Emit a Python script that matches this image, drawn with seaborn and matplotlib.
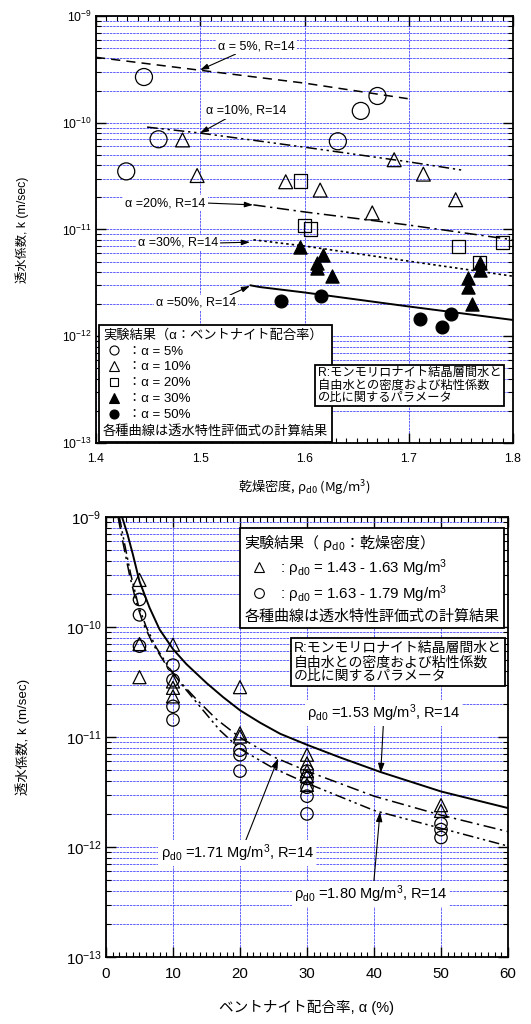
import numpy as np
import pandas as pd
import matplotlib
matplotlib.use("Agg")
import matplotlib.pyplot as plt
import seaborn as sns
from matplotlib.lines import Line2D
from matplotlib.ticker import MultipleLocator, LogLocator, NullFormatter
from matplotlib.font_manager import FontProperties

# measured points: dry density (Mg/m3), bentonite content (%), permeability k (m/s)
rho_d = [1.446, 1.460, 1.429, 1.670, 1.654, 1.632,
         1.483, 1.497, 1.582, 1.615, 1.686, 1.714, 1.745, 1.665,
         1.596, 1.600, 1.606, 1.748, 1.790, 1.768,
         1.596, 1.618, 1.612, 1.612, 1.626, 1.757, 1.757, 1.761, 1.768, 1.768,
         1.577, 1.616, 1.711, 1.732, 1.741]
alpha = [5, 5, 5, 5, 5, 5,
         10, 10, 10, 10, 10, 10, 10, 10,
         20, 20, 20, 20, 20, 20,
         30, 30, 30, 30, 30, 30, 30, 30, 30, 30,
         50, 50, 50, 50, 50]
k_val = [2.68e-10, 7.0e-11, 3.5e-11, 1.78e-10, 1.29e-10, 6.7e-11,
         6.9e-11, 3.2e-11, 2.8e-11, 2.34e-11, 4.5e-11, 3.3e-11, 1.9e-11, 1.43e-11,
         2.84e-11, 1.08e-11, 1.01e-11, 6.9e-12, 7.6e-12, 4.9e-12,
         6.9e-12, 5.76e-12, 4.9e-12, 4.4e-12, 3.67e-12, 3.5e-12, 2.9e-12, 2.0e-12, 4.9e-12, 4.2e-12,
         2.13e-12, 2.4e-12, 1.44e-12, 1.22e-12, 1.63e-12]

# calculated curves, upper chart (k vs dry density)
c5_rho = [1.400, 1.500, 1.600, 1.699]
c5_k = [4.1e-10, 3.1e-10, 2.35e-10, 1.68e-10]
c10_rho = [1.449, 1.500, 1.600, 1.700, 1.751]
c10_k = [9.1e-11, 8.0e-11, 5.9e-11, 4.3e-11, 3.6e-11]
c20_rho = [1.551, 1.600, 1.700, 1.800]
c20_k = [1.7e-11, 1.46e-11, 1.1e-11, 8.0e-12]
c30_rho = [1.551, 1.600, 1.700, 1.800]
c30_k = [8.0e-12, 7.0e-12, 5.05e-12, 3.65e-12]
c50_rho = [1.548, 1.557, 1.600, 1.700, 1.800]
c50_k = [3.0e-12, 2.89e-12, 2.57e-12, 1.9e-12, 1.42e-12]

# calculated curves, lower chart (k vs bentonite content)
c153_a = [2.4, 3.2, 4.0, 5.0, 6.5, 8.0, 10, 12, 15, 17.5, 20, 23, 26, 30, 35, 41, 50, 60]
c153_k = [1e-9, 7e-10, 4.6e-10, 2.6e-10, 1.5e-10, 9.5e-11, 6.3e-11, 4.6e-11, 3.1e-11,
          2.3e-11, 1.75e-11, 1.35e-11, 1.07e-11, 8.5e-12, 6.5e-12, 4.8e-12, 3.2e-12, 2.26e-12]
c171_a = [1.8, 2.5, 3.5, 4.5, 5.5, 7, 9, 11, 13.5, 16.5, 20, 25, 30, 40, 50, 60]
c171_k = [1e-9, 6e-10, 3e-10, 1.7e-10, 1.1e-10, 7e-11, 4.5e-11, 3.2e-11, 2.2e-11,
          1.45e-11, 9.9e-12, 6.6e-12, 4.9e-12, 2.9e-12, 1.95e-12, 1.38e-12]
c180_a = [2.0, 2.7, 3.7, 4.8, 6, 7.5, 9.5, 11.5, 14, 17, 20, 25, 30, 40, 50, 60]
c180_k = [1e-9, 6e-10, 3e-10, 1.6e-10, 1.0e-10, 6.5e-11, 4.2e-11, 2.9e-11, 1.9e-11,
          1.15e-11, 7.8e-12, 5.2e-12, 3.8e-12, 2.15e-12, 1.48e-12, 1.02e-12]

df = pd.DataFrame({"rho": rho_d, "alpha": alpha, "k": k_val})

sns.set_theme(style="ticks")
plt.rcParams["font.family"] = ["Liberation Sans", "Noto Sans CJK JP"]
plt.rcParams.update({
    "mathtext.fontset": "custom",
    "mathtext.rm": "Liberation Sans",
    "mathtext.it": "Liberation Sans:italic",
    "mathtext.default": "regular",
    "axes.edgecolor": "black",
    "axes.linewidth": 1.3,
    "xtick.color": "black", "ytick.color": "black",
    "xtick.direction": "in", "ytick.direction": "in",
    "xtick.top": True, "ytick.right": True,
    "text.color": "black", "axes.labelcolor": "black",
})
CJK = FontProperties(family="Noto Sans CJK JP")
GRID = "#4848ff"

fig = plt.figure(figsize=(5.31, 10.24), dpi=100)
ax1 = fig.add_axes([0.1808, 0.5674, 0.7853, 0.4170])
ax2 = fig.add_axes([0.1996, 0.0654, 0.7571, 0.4297])


def frame(ax, xmin, xmax, major, minor, fs, pad):
    ax.set_yscale("log")
    ax.set_xlim(xmin, xmax)
    ax.set_ylim(1e-13, 1e-9)
    ax.xaxis.set_major_locator(MultipleLocator(major))
    ax.xaxis.set_minor_locator(MultipleLocator(minor))
    ax.yaxis.set_major_locator(LogLocator(base=10, numticks=10))
    ax.yaxis.set_minor_locator(LogLocator(base=10, subs=np.arange(2, 10), numticks=30))
    ax.yaxis.set_minor_formatter(NullFormatter())
    ax.grid(True, which="both", axis="y", color=GRID, lw=0.6, ls=(0, (3, 1)))
    ax.grid(True, which="major", axis="x", color=GRID, lw=0.6, ls=(0, (3, 1)))
    ax.set_axisbelow(True)
    ax.tick_params(which="major", length=7, width=1.0, labelsize=fs)
    ax.tick_params(axis="y", which="major", pad=pad)
    ax.tick_params(axis="x", which="major", pad=7)
    ax.tick_params(which="minor", length=3.5, width=0.8)


def note(ax, text, tip, where, rel, fs):
    ax.annotate(text, xy=tip, xytext=where, ha="center", va="center", fontsize=fs,
                bbox=dict(boxstyle="square,pad=0.15", fc="white", ec="none"),
                arrowprops=dict(arrowstyle="-|>,head_length=0.55,head_width=0.18",
                                color="black", lw=0.8, relpos=rel, shrinkA=0, shrinkB=0),
                zorder=4)


def footer_flush(leg):
    # last legend row is a plain text line: remove its empty handle slot
    row = leg._legend_handle_box.get_children()[0].get_children()[-1]
    row.sep = 0
    row.get_children()[0].width = 0


# ---------------- upper chart ----------------
frame(ax1, 1.4, 1.8, 0.1, 0.01, 8.8, 3)

top_marks = [(5, "o", "none", 150), (10, "^", "none", 100), (20, "s", "none", 90),
             (30, "^", "black", 90), (50, "o", "black", 85)]
for a, m, fc, s in top_marks:
    sns.scatterplot(data=df[df["alpha"] == a], x="rho", y="k", marker=m, s=s,
                    facecolor=fc, edgecolor="black", linewidth=0.9,
                    ax=ax1, legend=False, zorder=3)

top_curves = [(c5_rho, c5_k, (0, (6, 4)), 1.1),
              (c10_rho, c10_k, (0, (7, 2.5, 1.5, 2.5, 1.5, 2.5)), 1.1),
              (c20_rho, c20_k, (0, (8, 3, 1.5, 3)), 1.1),
              (c30_rho, c30_k, (0, (1.5, 1.8)), 1.2),
              (c50_rho, c50_k, "-", 1.4)]
for xs, ks, ls, lw in top_curves:
    sns.lineplot(x=xs, y=ks, ax=ax1, color="black", lw=lw, linestyle=ls,
                 estimator=None, sort=False, zorder=2)

note(ax1, "α = 5%, R=14", (1.4998, 3.12e-10), (1.554, 5.2e-10), (0.28, 0.0), 9)
note(ax1, "α =10%, R=14", (1.4998, 8.0e-11), (1.544, 1.29e-10), (0.29, 0.0), 9)
note(ax1, "α =20%, R=14", (1.5506, 1.7e-11), (1.4667, 1.77e-11), (1.0, 0.5), 9)
note(ax1, "α =30%, R=14", (1.5477, 7.6e-12), (1.479, 7.48e-12), (1.0, 0.5), 9)
note(ax1, "α =50%, R=14", (1.5477, 2.96e-12), (1.496, 2.05e-12), (0.87, 1.0), 9)

h1 = [Line2D([], [], ls="none", marker=m, ms=6.5 if m != "s" else 6, mfc=fc if fc != "none" else "white",
             mec="black", mew=0.8) for a, m, fc, s in top_marks]
lab1 = ["：α = %d%%" % a for a, m, fc, s in top_marks]
h1.append(Line2D([], [], ls="none"))
lab1.append("各種曲線は透水特性評価式の計算結果")
leg1 = ax1.legend(h1, lab1, title="実験結果（α：ベントナイト配合率）", loc="lower left",
                  bbox_to_anchor=(0.007, 0.003), borderaxespad=0, fontsize=9.5,
                  title_fontsize=9.5, alignment="left", fancybox=False, edgecolor="black",
                  framealpha=1, handlelength=1.7, handletextpad=0.2, labelspacing=0.28,
                  borderpad=0.3)
leg1.get_frame().set_linewidth(1.3)
footer_flush(leg1)

ax1.text(0.532, 0.178, "R:モンモリロナイト結晶層間水と\n自由水との密度および粘性係数\nの比に関するパラメータ",
         transform=ax1.transAxes, ha="left", va="top", fontsize=8.8, linespacing=1.05,
         bbox=dict(boxstyle="square,pad=0.2", fc="white", ec="black", lw=1.3), zorder=6)

ax1.set_xlabel("乾燥密度, $\\rho_{d0}$ (Mg/m$^3$)", fontproperties=CJK, fontsize=9.5)
ax1.set_ylabel("透水係数, k (m/sec)", fontsize=8.8)
ax1.xaxis.set_label_coords(0.5, -0.084)
ax1.yaxis.set_label_coords(-0.16, 0.5)

# ---------------- lower chart ----------------
frame(ax2, 0, 60, 10, 1, 10.8, 3)

low = df[df["rho"] < 1.63]
high = df[df["rho"] >= 1.63]
sns.scatterplot(data=low, x="alpha", y="k", marker="^", s=88, facecolor="none",
                edgecolor="black", linewidth=0.9, ax=ax2, legend=False, zorder=3)
sns.scatterplot(data=high, x="alpha", y="k", marker="o", s=80, facecolor="none",
                edgecolor="black", linewidth=0.9, ax=ax2, legend=False, zorder=3)

low_curves = [(c153_a, c153_k, "-", 1.4),
              (c171_a, c171_k, (0, (8, 3, 1.5, 3)), 1.1),
              (c180_a, c180_k, (0, (7, 2.5, 1.5, 2.5, 1.5, 2.5)), 1.1)]
for xs, ks, ls, lw in low_curves:
    sns.lineplot(x=xs, y=ks, ax=ax2, color="black", lw=lw, linestyle=ls,
                 estimator=None, sort=False, zorder=2)

note(ax2, "$\\rho_{d0}$ =1.53 Mg/m$^3$, R=14", (41.0, 4.7e-12), (41.4, 1.65e-11), (0.5, 0.0), 10.5)
note(ax2, "$\\rho_{d0}$ =1.71 Mg/m$^3$, R=14", (25.7, 6.4e-12), (19.6, 8.8e-13), (0.55, 1.0), 10.5)
note(ax2, "$\\rho_{d0}$ =1.80 Mg/m$^3$, R=14", (40.9, 2.09e-12), (39.5, 3.74e-13), (0.52, 1.0), 10.5)

h2 = [Line2D([], [], ls="none", marker="^", ms=7, mfc="white", mec="black", mew=0.8),
      Line2D([], [], ls="none", marker="o", ms=7, mfc="white", mec="black", mew=0.8),
      Line2D([], [], ls="none")]
lab2 = [" : $\\rho_{d0}$ = 1.43 - 1.63 Mg/m$^3$",
        " : $\\rho_{d0}$ = 1.63 - 1.79 Mg/m$^3$",
        "各種曲線は透水特性評価式の計算結果"]
leg2 = ax2.legend(h2, lab2, title="実験結果（ $\\rho_{d0}$：乾燥密度）", loc="upper right",
                  bbox_to_anchor=(0.99, 0.975), borderaxespad=0, fontsize=10.8,
                  title_fontproperties=FontProperties(family="Noto Sans CJK JP", size=10.8),
                  alignment="left", fancybox=False, edgecolor="black", framealpha=1,
                  handlelength=2.0, handletextpad=0.1, labelspacing=0.3, borderpad=0.3)
leg2.get_frame().set_linewidth(1.3)
footer_flush(leg2)

ax2.text(0.468, 0.718, "R:モンモリロナイト結晶層間水と\n自由水との密度および粘性係数\nの比に関するパラメータ",
         transform=ax2.transAxes, ha="left", va="top", fontsize=10.0, linespacing=1.0,
         bbox=dict(boxstyle="square,pad=0.2", fc="white", ec="black", lw=1.3), zorder=6)

ax2.set_xlabel("ベントナイト配合率, α (%)", fontsize=10.5)
ax2.set_ylabel("透水係数, k (m/sec)", fontsize=9.6)
ax2.xaxis.set_label_coords(0.5, -0.098)
ax2.yaxis.set_label_coords(-0.19, 0.5)

fig.savefig("out.png", dpi=100, facecolor="white")
